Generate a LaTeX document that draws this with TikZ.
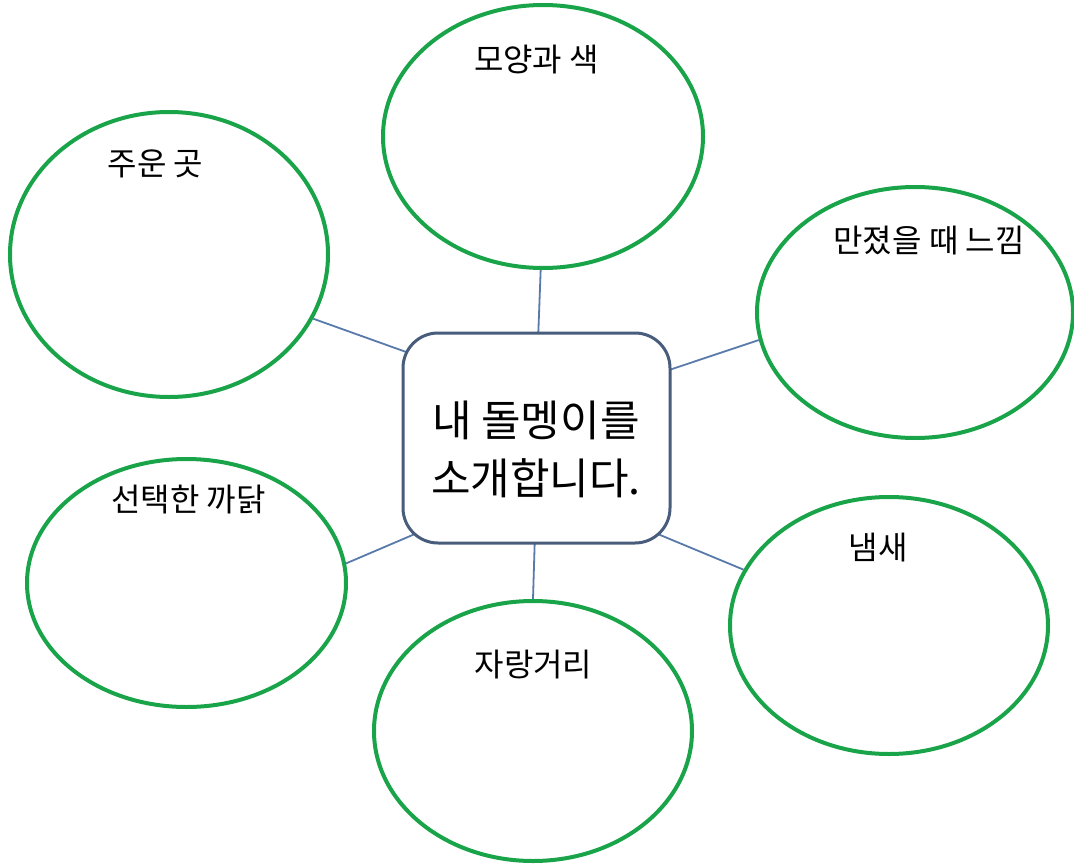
\documentclass[tikz,border=0pt]{standalone}
\usepackage{fontspec}
\setmainfont{Noto Sans CJK KR}
\usepackage{tikz}
\usetikzlibrary{shapes.geometric}
\usetikzlibrary{backgrounds}
\definecolor{ringgreen}{RGB}{26,164,74}
\definecolor{boxedge}{RGB}{72,92,124}
\definecolor{linkblue}{RGB}{88,122,170}

\begin{document}
\begin{tikzpicture}[x=1pt,y=-1pt,
    ring/.style={ellipse,draw=ringgreen,line width=4pt,inner sep=0pt},
    tag/.style={font=\fontsize{32}{36}\selectfont},
    link/.style={draw=linkblue,line width=1.8pt,shorten >=-14pt}]
        \useasboundingbox(0,0)rectangle(1074,867);
        \node[draw=boxedge,fill=white,line width=3pt,rounded corners=35pt,
              minimum width=267pt,minimum height=210pt](box)at(536.5,438){};
        \node[align=center,font=\fontsize{43}{58}\selectfont](title)at(536,449){내 돌멩이를\\소개합니다.};
        % six ellipses round the box
        \node[ring,minimum width=320pt,minimum height=263pt](shape)at(543,136.5){};
        \node[ring,minimum width=318pt,minimum height=285pt](place)at(169,254.5){};
        \node[ring,minimum width=316pt,minimum height=251pt](touch)at(915,312.5){};
        \node[ring,minimum width=319pt,minimum height=248pt](reason)at(186.5,583){};
        \node[ring,minimum width=318pt,minimum height=257pt](smell)at(889,625.5){};
        \node[ring,minimum width=318pt,minimum height=260pt](boast)at(533,731){};
        \node[tag](shapeT)at(536.5,60){모양과 색};
        \node[tag](placeT)at(155.5,164){주운 곳};
        \node[tag](touchT)at(929,241){만졌을 때 느낌};
        \node[tag](reasonT)at(188.5,500){선택한 까닭};
        \node[tag](smellT)at(878,548){냄새};
        \node[tag](boastT)at(533.5,665){자랑거리};
        \begin{scope}[on background layer]
        \draw[link](shape.269)--(box.89);
        \draw[link](place.-24)--(box.147);
        \draw[link](touch.190)--(box.27);
        \draw[link](reason.7)--(box.217);
        \draw[link](smell.159)--(box.323);
        \draw[link](boast.90)--(box.269);
        \end{scope}
    \end{tikzpicture}
\end{document}
